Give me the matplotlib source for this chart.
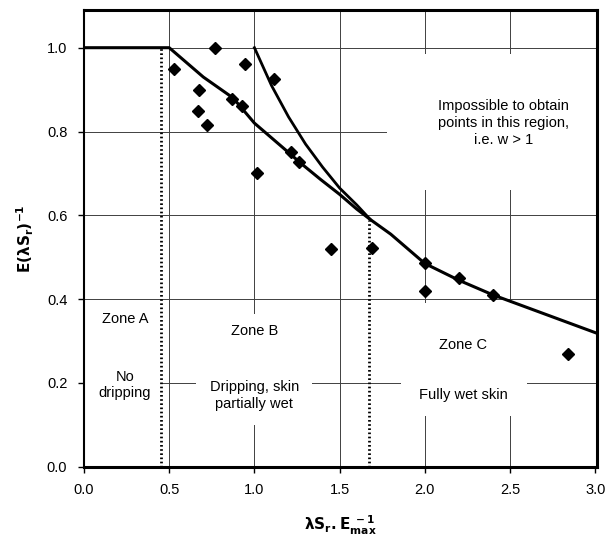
import matplotlib
matplotlib.use("Agg")
import matplotlib.pyplot as plt
from matplotlib.patches import Rectangle

plt.rcParams["font.family"] = ["Liberation Sans", "DejaVu Sans"]

# measured points, lambda*Sr/Emax vs E/(lambda*Sr)
obs_x = [0.53, 0.77, 0.945, 0.675, 0.67, 0.72, 0.87, 0.925, 1.015, 1.115,
         1.215, 1.26, 1.45, 1.69, 2.0, 2.0, 2.2, 2.4, 2.84]
obs_y = [0.95, 1.0, 0.96, 0.90, 0.85, 0.815, 0.878, 0.86, 0.70, 0.926,
         0.75, 0.727, 0.52, 0.523, 0.485, 0.42, 0.45, 0.41, 0.27]

# lower model curve (no dripping -> partial wetting -> fully wet)
low_x = [0.0, 0.5, 0.7, 0.875, 1.0, 1.1, 1.2, 1.27, 1.39, 1.5, 1.6, 1.68,
         1.8, 2.0, 2.2, 2.4, 2.6, 2.8, 3.0]
low_y = [1.0, 1.0, 0.93, 0.88, 0.82, 0.785, 0.75, 0.725, 0.685, 0.65, 0.615, 0.59,
         0.555, 0.485, 0.445, 0.41, 0.38, 0.35, 0.32]

# upper bound curve, w = 1
up_x = [1.0, 1.1, 1.2, 1.3, 1.4, 1.5, 1.6, 1.68]
up_y = [1.0, 0.91, 0.835, 0.77, 0.715, 0.665, 0.625, 0.59]

# zone boundaries
zone_ab_x = 0.45
zone_ab_top = 1.0
zone_bc_x = 1.67
zone_bc_top = 0.59

x_ticks = [0.0, 0.5, 1.0, 1.5, 2.0, 2.5, 3.0]
y_ticks = [0.0, 0.2, 0.4, 0.6, 0.8, 1.0]

fig = plt.figure(figsize=(6.11, 5.4), dpi=100)
ax = fig.add_axes([0.1375, 0.1357, 0.8395, 0.8458])

ax.set_xlim(0, 3.01)
ax.set_ylim(0, 1.09)

for v in x_ticks[1:-1]:
    ax.axvline(v, color="0.25", lw=0.7, zorder=0)
for v in y_ticks[1:]:
    ax.axhline(v, color="0.25", lw=0.7, zorder=0)

# white patches keeping the grid clear behind the annotations
for x0, y0, w, h in [(0.0, 0.10, 0.45, 0.29), (0.66, 0.10, 0.68, 0.265),
                     (1.86, 0.12, 0.74, 0.27), (1.78, 0.66, 1.23, 0.325)]:
    ax.add_patch(Rectangle((x0, y0), w, h, facecolor="white", edgecolor="none", zorder=1))

ax.plot(low_x, low_y, color="black", lw=2.2, zorder=3)
ax.plot(up_x, up_y, color="black", lw=2.0, zorder=3)
ax.plot([zone_ab_x, zone_ab_x], [0, zone_ab_top], color="black", lw=2.0,
        ls=(0, (0.6, 0.9)), zorder=3)
ax.plot([zone_bc_x, zone_bc_x], [0, zone_bc_top], color="black", lw=2.0,
        ls=(0, (0.6, 0.9)), zorder=3)
ax.plot(obs_x, obs_y, ls="none", marker="D", ms=6, color="black", zorder=4)

fs = 10.5
ax.text(0.24, 0.353, "Zone A", ha="center", va="center", fontsize=fs, zorder=2)
ax.text(0.24, 0.195, "No\ndripping", ha="center", va="center", fontsize=fs,
        zorder=2, linespacing=1.2)
ax.text(1.0, 0.325, "Zone B", ha="center", va="center", fontsize=fs, zorder=2)
ax.text(1.0, 0.17, "Dripping, skin\npartially wet", ha="center", va="center",
        fontsize=fs, zorder=2, linespacing=1.2)
ax.text(2.225, 0.29, "Zone C", ha="center", va="center", fontsize=fs, zorder=2)
ax.text(2.225, 0.17, "Fully wet skin", ha="center", va="center", fontsize=fs, zorder=2)
ax.text(2.46, 0.82, "Impossible to obtain\npoints in this region,\ni.e. w > 1",
        ha="center", va="center", fontsize=fs, zorder=2, linespacing=1.25)

ax.set_xticks(x_ticks)
ax.set_yticks(y_ticks)
ax.set_xticklabels([f"{v:.1f}" for v in x_ticks], fontsize=10.5)
ax.set_yticklabels([f"{v:.1f}" for v in y_ticks], fontsize=10.5)
ax.tick_params(direction="out", length=4, width=1, pad=8)

for side in ["top", "right", "bottom"]:
    ax.spines[side].set_linewidth(2.2)
ax.spines["left"].set_linewidth(1.5)

ax.set_xlabel(r"$\mathbf{\lambda S_r.E_{max}^{\ -1}}$", fontsize=11, labelpad=12)
ax.set_ylabel(r"$\mathbf{E(\lambda S_r)^{-1}}$", fontsize=11, labelpad=8)

fig.savefig("out.png", dpi=100)
